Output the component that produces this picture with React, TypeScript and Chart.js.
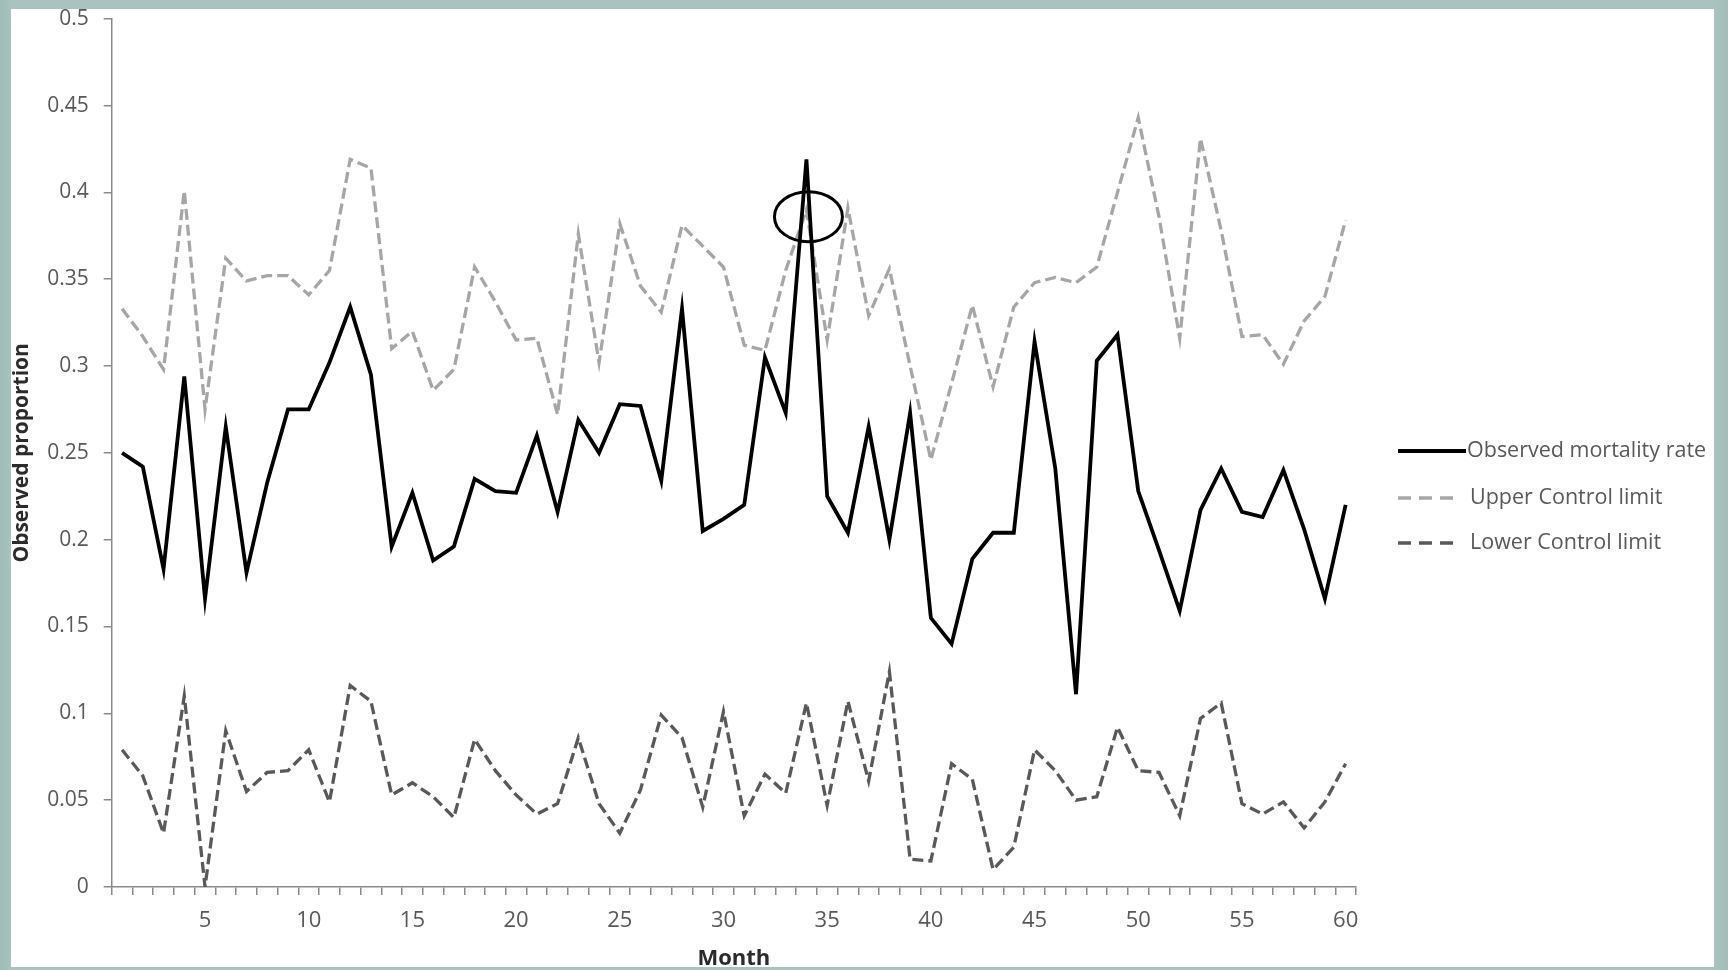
import React, { useEffect, useRef } from 'react';
import { Chart, registerables } from 'chart.js';

Chart.register(...registerables);

// ---------- data ----------
const MONTHS = [
  1, 2, 3, 4, 5, 6, 7, 8, 9, 10, 11, 12, 13, 14, 15, 16, 17, 18, 19, 20,
  21, 22, 23, 24, 25, 26, 27, 28, 29, 30, 31, 32, 33, 34, 35, 36, 37, 38, 39, 40,
  41, 42, 43, 44, 45, 46, 47, 48, 49, 50, 51, 52, 53, 54, 55, 56, 57, 58, 59, 60,
];

const X_TICK_LABELS = [5, 10, 15, 20, 25, 30, 35, 40, 45, 50, 55, 60];

const OBSERVED = [
  0.250, 0.242, 0.183, 0.294, 0.166, 0.265, 0.181, 0.233, 0.275, 0.275,
  0.302, 0.334, 0.295, 0.196, 0.227, 0.188, 0.196, 0.235, 0.228, 0.227,
  0.260, 0.216, 0.269, 0.250, 0.278, 0.277, 0.234, 0.333, 0.205, 0.212,
  0.220, 0.305, 0.273, 0.419, 0.225, 0.204, 0.265, 0.200, 0.273, 0.155,
  0.140, 0.189, 0.204, 0.204, 0.314, 0.241, 0.111, 0.303, 0.318, 0.228,
  0.194, 0.159, 0.217, 0.241, 0.216, 0.213, 0.240, 0.206, 0.166, 0.220,
];

const UPPER = [
  0.333, 0.317, 0.298, 0.401, 0.275, 0.362, 0.349, 0.352, 0.352, 0.341,
  0.355, 0.419, 0.414, 0.310, 0.320, 0.286, 0.298, 0.357, 0.337, 0.315,
  0.316, 0.272, 0.376, 0.302, 0.382, 0.346, 0.331, 0.381, 0.369, 0.357,
  0.312, 0.309, 0.355, 0.390, 0.315, 0.391, 0.329, 0.356, 0.300, 0.246,
  0.290, 0.335, 0.288, 0.334, 0.348, 0.351, 0.348, 0.357, 0.400, 0.443,
  0.386, 0.316, 0.431, 0.378, 0.317, 0.318, 0.301, 0.326, 0.340, 0.384,
];

const LOWER = [
  0.079, 0.064, 0.031, 0.110, 0.000, 0.090, 0.055, 0.066, 0.067, 0.079,
  0.049, 0.116, 0.107, 0.053, 0.060, 0.052, 0.040, 0.085, 0.067, 0.053,
  0.042, 0.048, 0.086, 0.048, 0.031, 0.056, 0.099, 0.086, 0.046, 0.101,
  0.041, 0.065, 0.054, 0.106, 0.047, 0.107, 0.061, 0.124, 0.016, 0.015,
  0.071, 0.062, 0.010, 0.023, 0.079, 0.067, 0.050, 0.052, 0.092, 0.067,
  0.066, 0.041, 0.097, 0.106, 0.048, 0.042, 0.049, 0.034, 0.049, 0.071,
];

const SERIES_NAMES = ['Observed mortality rate', 'Upper Control limit', 'Lower Control limit'];
const X_TITLE = 'Month';
const Y_TITLE = 'Observed proportion';
const Y_MIN = 0;
const Y_MAX = 0.5;
const Y_STEP = 0.05;

// highlighted (circled) point
const HIGHLIGHT_MONTH = 34;
const HIGHLIGHT_VALUE = 0.386;

// ---------- styles ----------
const FONT = '"Open Sans", "DejaVu Sans", sans-serif';
const AXIS_COLOR = '#8a8a8a';
const TICK_COLOR = '#595959';
const TITLE_COLOR = '#2b2b2b';
const COLORS = ['#000000', '#a6a6a6', '#595959'];
const WIDTHS = [3.8, 3.3, 3.3];
const DASHES: number[][] = [[], [11, 5], [11, 5]];

const decorPlugin = {
  id: 'decor',
  afterDatasetsDraw(chart: any) {
    const { ctx, scales } = chart;
    const xs = scales.x;
    const ys = scales.y;
    const idx = MONTHS.indexOf(HIGHLIGHT_MONTH);
    const cx = xs.getPixelForValue(idx) + 2;
    const cy = ys.getPixelForValue(HIGHLIGHT_VALUE);
    ctx.save();
    ctx.beginPath();
    ctx.ellipse(cx, cy, 34, 25, 0, 0, Math.PI * 2);
    ctx.lineWidth = 3;
    ctx.strokeStyle = '#000';
    ctx.setLineDash([]);
    ctx.stroke();
    ctx.restore();
  },
  afterDraw(chart: any) {
    const { ctx } = chart;
    const rows = [451, 498, 543];
    ctx.save();
    SERIES_NAMES.forEach((name, i) => {
      const y = rows[i];
      ctx.beginPath();
      ctx.strokeStyle = COLORS[i];
      if (i === 0) {
        ctx.lineWidth = 4;
        ctx.setLineDash([]);
        ctx.moveTo(1398, y);
        ctx.lineTo(1466, y);
      } else {
        ctx.lineWidth = 3.5;
        ctx.setLineDash([13, 8]);
        ctx.moveTo(1398, y);
        ctx.lineTo(1460, y);
      }
      ctx.stroke();
      ctx.setLineDash([]);
      ctx.fillStyle = TICK_COLOR;
      ctx.font = `21.5px ${FONT}`;
      ctx.textAlign = 'left';
      ctx.textBaseline = 'middle';
      ctx.fillText(name, i === 0 ? 1467 : 1470, y);
    });
    ctx.restore();
  },
};

export default function App() {
  const ref = useRef<HTMLCanvasElement>(null);

  useEffect(() => {
    const canvas = ref.current;
    if (!canvas) return;
    const chart = new Chart(canvas, {
      type: 'line',
      data: {
        labels: MONTHS.map(String),
        datasets: [OBSERVED, UPPER, LOWER].map((d, i) => ({
          label: SERIES_NAMES[i],
          data: d,
          borderColor: COLORS[i],
          backgroundColor: COLORS[i],
          borderWidth: WIDTHS[i],
          borderDash: DASHES[i],
          borderCapStyle: 'butt',
          borderJoinStyle: 'miter',
          pointRadius: 0,
          tension: 0,
          fill: false,
        })),
      },
      options: {
        responsive: false,
        animation: false,
        devicePixelRatio: 1,
        events: [],
        layout: { padding: { left: 0, right: 372, top: 18.7, bottom: 0 } },
        plugins: {
          legend: { display: false },
          tooltip: { enabled: false },
          title: { display: false },
        },
        scales: {
          x: {
            type: 'category',
            offset: true,
            grid: {
              offset: true,
              drawOnChartArea: false,
              drawTicks: true,
              tickLength: 8,
              color: AXIS_COLOR,
              lineWidth: 1.5,
            },
            border: { display: true, color: AXIS_COLOR, width: 1.5 },
            ticks: {
              autoSkip: false,
              maxRotation: 0,
              minRotation: 0,
              padding: 13,
              color: TICK_COLOR,
              font: { family: FONT, size: 22 },
              callback: (_v: any, i: number) =>
                X_TICK_LABELS.includes(MONTHS[i]) ? String(MONTHS[i]) : '',
            },
            title: {
              display: true,
              text: X_TITLE,
              color: TITLE_COLOR,
              font: { family: FONT, size: 22, weight: 'bold', lineHeight: 1.0 },
              padding: { top: 0, bottom: 0 },
            },
            afterFit: (s: any) => {
              s.height = 83;
              s.paddingLeft = 0;
              s.paddingRight = 0;
            },
          },
          y: {
            type: 'linear',
            min: Y_MIN,
            max: Y_MAX,
            grid: {
              drawOnChartArea: false,
              drawTicks: true,
              tickLength: 8,
              color: AXIS_COLOR,
              lineWidth: 1.5,
            },
            border: { display: true, color: AXIS_COLOR, width: 1.5 },
            ticks: {
              stepSize: Y_STEP,
              padding: 15,
              color: TICK_COLOR,
              font: { family: FONT, size: 21 },
              callback: (v: any) => String(Number(Number(v).toFixed(2))),
            },
            title: {
              display: true,
              text: Y_TITLE,
              color: TITLE_COLOR,
              font: { family: FONT, size: 21, weight: 'bold' },
              padding: { top: 9, bottom: 0 },
            },
            afterFit: (s: any) => {
              s.width = 111.7;
              s.paddingTop = 0;
              s.paddingBottom = 0;
            },
          },
        },
      },
      plugins: [decorPlugin],
    } as any);
    return () => chart.destroy();
  }, []);

  return (
    <div
      style={{
        position: 'fixed',
        left: 0,
        top: 0,
        width: 1728,
        height: 970,
        background: 'linear-gradient(90deg, #9fbcb6 0px, #aac3c0 12px, #aac3c0 1712px, #a2bdb8 1728px)',
        overflow: 'hidden',
      }}
    >
      <div
        style={{
          position: 'absolute',
          left: 11,
          top: 9,
          width: 1703,
          height: 958,
          background: '#ffffff',
          overflow: 'hidden',
        }}
      >
        <canvas
          ref={ref}
          width={1728}
          height={970}
          style={{ position: 'absolute', left: -11, top: -9, width: 1728, height: 970 }}
        />
      </div>
    </div>
  );
}
